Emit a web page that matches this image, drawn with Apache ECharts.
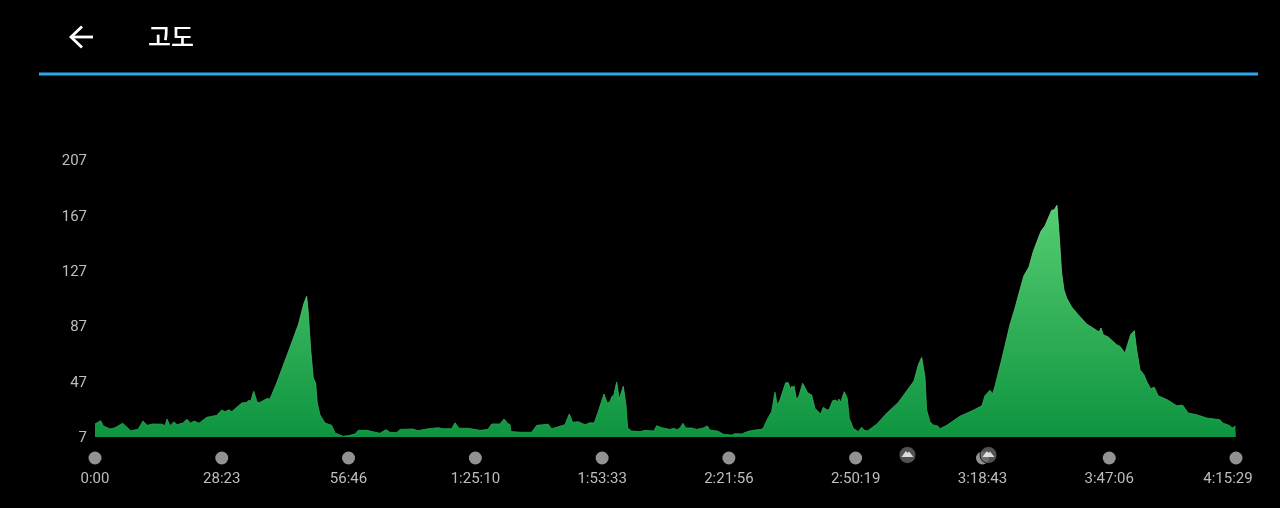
<!DOCTYPE html>
<html>
<head>
<meta charset="utf-8">
<style>html,body{margin:0;padding:0;background:#000}#c{width:1280px;height:508px}</style>
<script src="https://cdn.jsdelivr.net/npm/echarts@6/dist/echarts.min.js"></script>
</head>
<body>
<div id="c"></div>
<script>
const title = '고도';
const yTicks = [7, 47, 87, 127, 167, 207];
const timeLabels = ['0:00','28:23','56:46','1:25:10','1:53:33','2:21:56','2:50:19','3:18:43','3:47:06','4:15:29'];
const peakMinutes = [181.92, 200.06];
const elapsedMin = [
0,.38,1.28,1.86,3.36,4.48,6.20,7.99,9.63,10.75,11.64,12.99,15.16,15.67,16.12,16.79,17.69,18.36,19.64,20.60,21.43,22.17,23.29,25.01,27.25,28.37,29.11,30.00,30.61,32.85,33.97,34.41,34.86,35.53,36.34,36.94,38.44,39.18,40.68,42.92,45.52,46.80,47.40,47.76,48.30,48.88,49.41,49.77,50.38,51.50,53.00,53.74,55.59,57.09,58.21,58.95,
60.83,63.81,65.15,66.05,67.55,68.29,71.20,72.32,74.27,76.80,77.92,79.87,80.60,81.50,83.51,86.20,87.99,88.82,90.68,91.58,92.47,92.92,93.14,95.16,97.78,98.90,101.49,102.25,103.37,105.23,106.20,106.96,108.21,109.71,110.83,111.79,112.69,113.97,114.70,115.31,115.69,116.20,116.81,117.39,117.70,118.29,118.89,119.27,120.17,122.03,
123.15,125.16,125.76,126.88,128.74,129.64,130.24,130.98,131.65,132.26,133.60,134.72,136.20,137.09,137.70,139.56,140.68,142.56,143.30,144.80,146.27,147.77,149.12,149.63,150.53,151.51,152.25,152.77,153.37,154.65,155.23,155.77,156.06,156.28,156.51,157.11,157.69,158.45,159.57,159.93,160.47,161.21,162.48,163.07,163.51,163.96,164.41,165.17,165.91,166.20,166.58,166.96,167.77,168.44,168.89,169.78,170.90,171.66,172.18,172.92,175.02,177.26,179.86,183.37,184.34,185.10,185.46,185.84,186.22,186.96,187.70,188.68,189.20,
190.70,193.67,196.65,198.60,199.27,200.39,201.00,201.51,203.01,204.87,205.99,207.11,208.00,209.12,210.09,211.81,212.71,214.21,214.79,215.39,215.91,216.44,216.96,217.56,218.68,220.16,222.04,224.86,225.24,225.76,226.88,228.76,229.50,230.62,231.00,231.89,232.70,233.24,233.98,234.87,235.48,236.37,237.18,238.07,240.31,242.19,243.54,243.83,244.79,246.67,248.91,251.89,252.49,254.13,254.64,255.31,255.48];
const elevation = [
16.4,15.7,18.8,15,12.8,13.7,16.9,11.6,12.5,18.6,15.4,16.4,16.2,15,20,15.2,18,15.9,17.1,19.8,16.9,18.6,16.9,21.2,22.6,26.5,25.3,26.7,25.3,31.5,32,33.5,32.8,40,32,32,34.7,34.4,46,65.3,88,103.7,108.6,96.5,70,49.6,46,31.5,23,17.1,15.4,9.9,7.5,8.2,9.2,11.8,
11.8,9.7,12.3,10.4,10.1,12.5,12.8,11.6,12.8,13.7,13,13,17.3,13.3,13.3,11.8,12.5,16.4,16.4,20,16.6,16,10.9,10.4,10.4,15.4,16.2,13,14,15.9,23.6,17.6,18,15.9,17.3,17.1,25.5,38,31.5,32.3,35.9,37.6,46.7,34.4,34.4,43.6,30.3,13.5,11.3,10.9,
11.8,11.3,15.2,13.7,12.5,13.3,12.3,13.5,16.9,13.5,13.5,12.5,13.5,15,12,11.1,8.9,8.4,9.4,9.2,11.1,12,12.5,13.3,19.8,25.3,39.3,30.1,33.7,46.2,46.2,41.4,43.8,41.7,44,33.7,37.3,45.8,39,40.2,37.3,27.7,23.6,28.4,29,26.5,27,33.2,33.7,32,34.4,32,39.7,35,20.5,13.3,10.9,14,12,11.3,16.2,24.1,32,47.4,59,64.5,63.8,50.5,26.5,18,15.7,15,13,
15.4,22,26.3,29.6,36.8,40.7,38.3,43.6,62.8,88.1,100,113.4,123.5,129.7,141,155.5,159.5,170.7,171,174.3,151.9,125.4,113.4,107.4,100.9,95.3,88.6,82.8,85.7,80.9,79.2,73.6,72.5,67.6,68.4,80.9,83.8,70,55.6,52,47.2,41.9,42.9,36.8,33.5,29.6,30,30.8,24.3,23.1,20.7,19.5,17.1,15.2,13.5,14.7,14.7];

const toMin = s => s.split(':').reduce((a, p) => a * 60 + +p, 0) / 60;
const tickMin = timeLabels.map(toMin);
const xMax = tickMin[tickMin.length - 1];
const fontFam = 'Roboto, "Noto Sans", sans-serif';
const labelColor = '#bdbdbd';
const mountain = 'path://M0 10 L6 2.5 L8.2 5 L10 3 L16 10 Z';

const chart = echarts.init(document.getElementById('c'), null, {renderer: 'canvas'});
chart.setOption({
  animation: false,
  backgroundColor: '#000',
  grid: [
    {left: 95, top: 160, width: 1141, height: 277},
    {left: 95, top: 448, width: 1141, height: 20}
  ],
  xAxis: [
    {type: 'value', gridIndex: 0, min: 0, max: xMax, show: false},
    {type: 'value', gridIndex: 1, min: 0, max: xMax, position: 'bottom',
     axisLine: {show: false}, axisTick: {show: false}, splitLine: {show: false},
     axisLabel: {customValues: tickMin, color: labelColor, fontSize: 15, fontFamily: fontFam, margin: 2,
       hideOverlap: false, showMinLabel: true, showMaxLabel: true, padding: [2, 0, 0, 0],
       rich: {last: {color: labelColor, fontSize: 15, fontFamily: fontFam, padding: [0, 16, 0, 0]}},
       formatter: v => {
         let best = 0;
         tickMin.forEach((t, i) => { if (Math.abs(t - v) < Math.abs(tickMin[best] - v)) best = i; });
         return best === tickMin.length - 1 ? '{last|' + timeLabels[best] + '}' : timeLabels[best];
       }}}
  ],
  yAxis: [
    {type: 'value', gridIndex: 0, min: 7, max: 207,
     axisLine: {show: false}, axisTick: {show: false}, splitLine: {show: false},
     axisLabel: {customValues: yTicks, color: labelColor, fontSize: 15, fontFamily: fontFam, margin: 8,
       rich: {n: {color: labelColor, fontSize: 15, fontFamily: fontFam, padding: [3, 0, 0, 0]}},
       formatter: v => '{n|' + v + '}'}},
    {type: 'value', gridIndex: 1, min: 0, max: 2, show: false}
  ],
  series: [
    {type: 'line', xAxisIndex: 0, yAxisIndex: 0, showSymbol: false, smooth: false, sampling: false,
     data: elapsedMin.map((t, i) => [t, elevation[i]]),
     lineStyle: {width: 0.8, color: {type: 'linear', x: 0, y: 0, x2: 0, y2: 1,
       colorStops: [{offset: 0, color: '#7bdc95'}, {offset: 1, color: '#25a552'}]}},
     areaStyle: {opacity: 1, color: {type: 'linear', x: 0, y: 0, x2: 0, y2: 1,
       colorStops: [{offset: 0, color: '#56cd71'}, {offset: 1, color: '#0e9440'}]}}},
    {type: 'scatter', xAxisIndex: 1, yAxisIndex: 1, symbol: 'circle', symbolSize: 13, z: 3,
     itemStyle: {color: '#b6b6b6'}, data: tickMin.map(t => [t, 1])},
    {type: 'scatter', xAxisIndex: 1, yAxisIndex: 1, symbol: 'circle', symbolSize: 17, symbolOffset: [0, -3], z: 4,
     itemStyle: {color: '#666666', borderColor: '#000', borderWidth: 1}, data: peakMinutes.map(t => [t, 1])},
    {type: 'scatter', xAxisIndex: 1, yAxisIndex: 1, symbol: mountain, symbolSize: [12, 6], symbolOffset: [0, -4], z: 5,
     itemStyle: {color: '#fff'}, data: peakMinutes.map(t => [t, 1])}
  ],
  graphic: [
    {type: 'rect', shape: {x: 39, y: 72.5, width: 1219, height: 3}, style: {fill: '#2ea6ea'}},
    {type: 'polyline', shape: {points: [[82, 26.5], [71, 37], [82, 47.5]]},
     style: {stroke: '#fff', lineWidth: 2.8, fill: null}},
    {type: 'line', shape: {x1: 71, y1: 37, x2: 93, y2: 37}, style: {stroke: '#fff', lineWidth: 2.8}},
    {type: 'text', x: 148, y: 36, style: {text: title, fill: '#fff', font: '500 25px "Noto Sans CJK KR"', verticalAlign: 'middle'}}
  ]
});
</script>
</body>
</html>
